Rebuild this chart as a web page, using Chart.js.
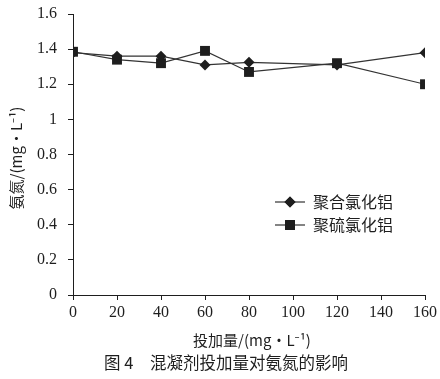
<!DOCTYPE html>
<html><head><meta charset="utf-8">
<script src="https://cdn.jsdelivr.net/npm/chart.js@4/dist/chart.umd.min.js"></script>
<style>html,body{margin:0;padding:0;background:#fff;}#wrap{position:relative;width:440px;height:379px;}</style>
</head><body><div id="wrap"><canvas id="c" width="440" height="379"></canvas></div>
<script>
const doses = [0, 20, 40, 60, 80, 120, 160];
const pacValues = [1.38, 1.36, 1.36, 1.31, 1.325, 1.31, 1.38];
const pascValues = [1.385, 1.34, 1.32, 1.39, 1.27, 1.32, 1.20];
const seriesNames = ['聚合氯化铝', '聚硫氯化铝'];
const yTitle = '氨氮/(mg·L⁻¹)';
const xTitle = '投加量/(mg·L⁻¹)';
const caption = '图 4　混凝剂投加量对氨氮的影响';

const ink = '#1e1e1e';
const cjk = '"Noto Sans CJK SC", "Noto Sans", sans-serif';
const serif = '"Liberation Serif", "DejaVu Serif", serif';

const textPlugin = {
  id: 'texts',
  afterDraw(chart) {
    const ctx = chart.ctx;
    ctx.save();
    ctx.fillStyle = ink;
    // y title
    ctx.save();
    ctx.translate(16, 158);
    ctx.rotate(-Math.PI / 2);
    ctx.font = '15px ' + cjk;
    ctx.textAlign = 'center';
    ctx.textBaseline = 'middle';
    ctx.fillText(yTitle, 0, 0);
    ctx.restore();
    // x title
    ctx.font = '15px ' + cjk;
    ctx.textAlign = 'center';
    ctx.textBaseline = 'middle';
    ctx.fillText(xTitle, 252, 340);
    // caption
    ctx.font = '16.5px ' + cjk;
    ctx.fillText(caption, 226, 363);
    // legend
    const lx = 275, items = [{y: 202, style: 'rectRot', r: 5.5}, {y: 225, style: 'rect', r: 7}];
    items.forEach((it, i) => {
      ctx.strokeStyle = '#333';
      ctx.lineWidth = 1.2;
      ctx.beginPath();
      ctx.moveTo(lx, it.y);
      ctx.lineTo(lx + 30, it.y);
      ctx.stroke();
      ctx.fillStyle = ink;
      ctx.beginPath();
      Chart.helpers.drawPoint(ctx, {pointStyle: it.style, radius: it.r, borderWidth: 0}, lx + 15, it.y);
      ctx.fill();
      ctx.font = '16px ' + cjk;
      ctx.textAlign = 'left';
      ctx.textBaseline = 'middle';
      ctx.fillText(seriesNames[i], lx + 38, it.y);
    });
    ctx.restore();
  }
};

new Chart(document.getElementById('c'), {
  type: 'line',
  data: {
    datasets: [
      {label: seriesNames[0], data: doses.map((d, i) => ({x: d, y: pacValues[i]})),
       borderColor: '#333', borderWidth: 1.2, backgroundColor: ink,
       pointStyle: 'rectRot', pointRadius: 5.5, pointBorderWidth: 0, pointBackgroundColor: ink, tension: 0},
      {label: seriesNames[1], data: doses.map((d, i) => ({x: d, y: pascValues[i]})),
       borderColor: '#333', borderWidth: 1.2, backgroundColor: ink,
       pointStyle: 'rect', pointRadius: 7, pointBorderWidth: 0, pointBackgroundColor: ink, tension: 0}
    ]
  },
  options: {
    responsive: false,
    animation: false,
    layout: {padding: {left: 0, right: 14, top: 0, bottom: 0}},
    plugins: {legend: {display: false}, tooltip: {enabled: false}},
    scales: {
      x: {
        type: 'linear', min: 0, max: 160,
        ticks: {stepSize: 20, color: ink, font: {family: serif, size: 16}, padding: 3},
        grid: {display: true, drawOnChartArea: false, drawTicks: true, tickLength: 5, color: ink},
        border: {display: true, color: ink, width: 1},
        afterFit(s) { s.height = 84; }
      },
      y: {
        min: 0, max: 1.6,
        ticks: {stepSize: 0.2, color: ink, font: {family: serif, size: 16, lineHeight: 1}, padding: 11,
                callback: v => String(Number(v.toFixed(1)))},
        grid: {display: true, drawOnChartArea: false, drawTicks: true, tickLength: 5, color: ink},
        border: {display: true, color: ink, width: 1},
        afterFit(s) { s.width = 73; s.paddingTop = 14; }
      }
    }
  },
  plugins: [textPlugin]
});
</script></body></html>
